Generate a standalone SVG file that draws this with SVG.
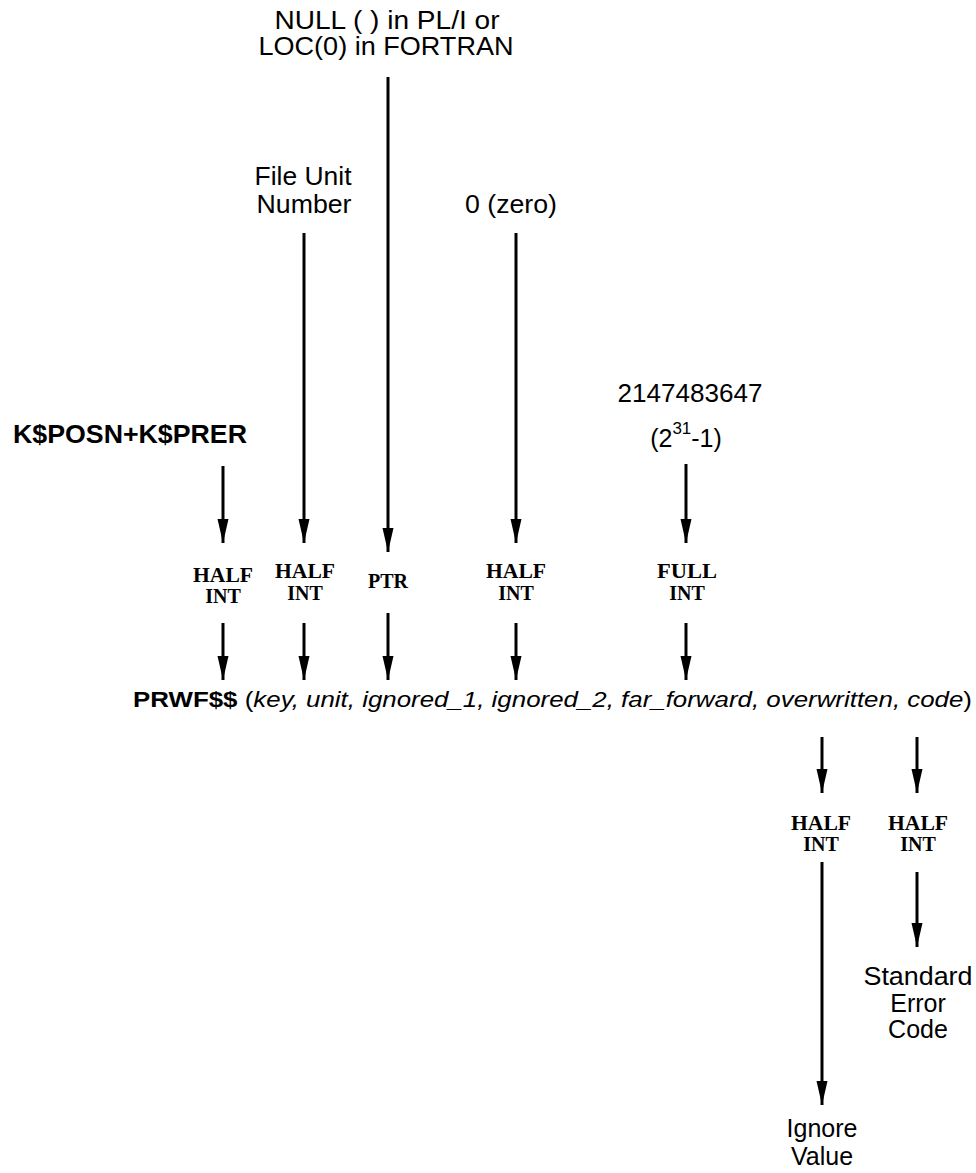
<svg xmlns="http://www.w3.org/2000/svg" width="976" height="1173" viewBox="0 0 976 1173">
<style>
.s{font-family:"Liberation Sans",Arial,sans-serif;font-size:25px;fill:#000;text-anchor:middle}
.b{font-weight:bold}
.t{font-family:"Liberation Serif","Times New Roman",serif;font-size:20px;font-weight:bold;fill:#000;text-anchor:middle}
.a{stroke:#000;stroke-width:3;fill:none;marker-end:url(#h)}
</style>
<defs>
<marker id="h" markerUnits="userSpaceOnUse" markerWidth="24" markerHeight="12" refX="24" refY="6" orient="auto">
<path d="M0,0.5 L24,6 L0,11.5 z" fill="#000"/>
</marker>
</defs>
<rect width="976" height="1173" fill="#fff"/>
<g id="connectors">
<line class="a" x1="223" y1="466" x2="223" y2="543"/>
<line class="a" x1="223" y1="623" x2="223" y2="680"/>
<line class="a" x1="304" y1="233" x2="304" y2="543"/>
<line class="a" x1="304" y1="623" x2="304" y2="680"/>
<line class="a" x1="388" y1="77" x2="388" y2="552"/>
<line class="a" x1="388" y1="613" x2="388" y2="680"/>
<line class="a" x1="516" y1="233" x2="516" y2="543"/>
<line class="a" x1="516" y1="623" x2="516" y2="680"/>
<line class="a" x1="686" y1="464" x2="686" y2="543"/>
<line class="a" x1="686" y1="623" x2="686" y2="680"/>
<line class="a" x1="822" y1="737" x2="822" y2="793"/>
<line class="a" x1="822" y1="862" x2="822" y2="1105"/>
<line class="a" x1="917" y1="737" x2="917" y2="793"/>
<line class="a" x1="917" y1="872" x2="917" y2="947"/>
</g>
<g id="null-ptr">
<text class="s" x="387" y="29" textLength="225" lengthAdjust="spacingAndGlyphs">NULL ( ) in PL/I or</text>
<text class="s" x="386" y="55" textLength="255" lengthAdjust="spacingAndGlyphs">LOC(0) in FORTRAN</text>
</g>
<g id="file-unit">
<text class="s" x="303" y="185" textLength="97" lengthAdjust="spacingAndGlyphs">File Unit</text>
<text class="s" x="304" y="213" textLength="95" lengthAdjust="spacingAndGlyphs">Number</text>
</g>
<g id="zero">
<text class="s" x="511" y="213" textLength="92" lengthAdjust="spacingAndGlyphs">0 (zero)</text>
</g>
<g id="key">
<text class="s b" x="130" y="443" textLength="234" lengthAdjust="spacingAndGlyphs">K$POSN+K$PRER</text>
</g>
<g id="max">
<text class="s" x="690" y="402" textLength="145" lengthAdjust="spacingAndGlyphs">2147483647</text>
<text class="s" x="686" y="447">(2<tspan dy="-13" font-size="17">31</tspan><tspan dy="13">-1)</tspan></text>
</g>
<g id="t1"><text class="t" x="223" y="582" textLength="60" lengthAdjust="spacingAndGlyphs">HALF</text><text class="t" x="223" y="603">INT</text></g>
<g id="t2"><text class="t" x="305" y="578" textLength="60" lengthAdjust="spacingAndGlyphs">HALF</text><text class="t" x="305" y="600">INT</text></g>
<g id="t3"><text class="t" x="388" y="588">PTR</text></g>
<g id="t4"><text class="t" x="516" y="578" textLength="60" lengthAdjust="spacingAndGlyphs">HALF</text><text class="t" x="516" y="600">INT</text></g>
<g id="t5"><text class="t" x="687" y="578" textLength="60" lengthAdjust="spacingAndGlyphs">FULL</text><text class="t" x="687" y="600">INT</text></g>
<g id="call">
<text x="133" y="707" font-family="Liberation Sans, Arial, sans-serif" font-size="22" textLength="839" lengthAdjust="spacingAndGlyphs"><tspan font-weight="bold">PRWF$$</tspan> (<tspan font-style="italic">key, unit, ignored_1, ignored_2, far_forward, overwritten, code</tspan>)</text>
</g>
<g id="t6"><text class="t" x="821" y="830" textLength="60" lengthAdjust="spacingAndGlyphs">HALF</text><text class="t" x="821" y="851">INT</text></g>
<g id="t7"><text class="t" x="918" y="830" textLength="60" lengthAdjust="spacingAndGlyphs">HALF</text><text class="t" x="918" y="851">INT</text></g>
<g id="err">
<text class="s" x="918" y="985" textLength="109" lengthAdjust="spacingAndGlyphs">Standard</text>
<text class="s" x="918" y="1012">Error</text>
<text class="s" x="918" y="1038">Code</text>
</g>
<g id="ignore">
<text class="s" x="822" y="1137">Ignore</text>
<text class="s" x="822" y="1165">Value</text>
</g>
</svg>
